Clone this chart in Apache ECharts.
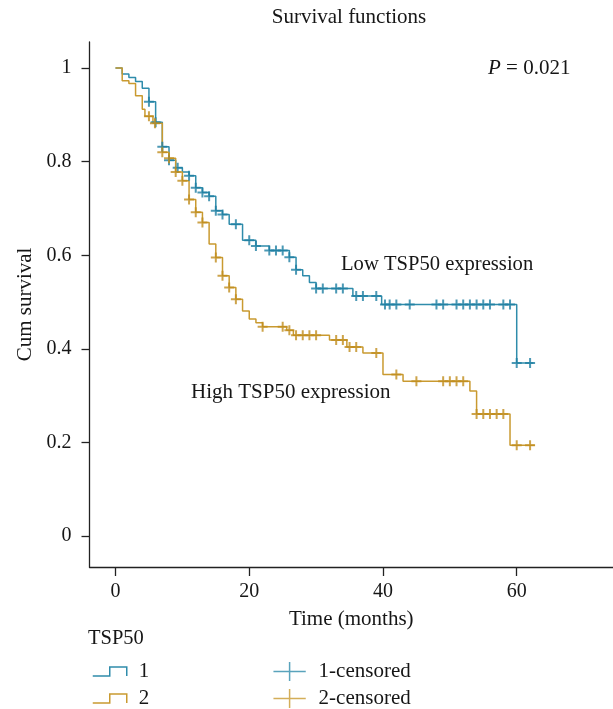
<!DOCTYPE html>
<html><head><meta charset="utf-8">
<script src="https://cdn.jsdelivr.net/npm/echarts@6/dist/echarts.min.js"></script>
<style>html,body{margin:0;padding:0;background:#fff}#c{width:613px;height:709px}</style>
</head><body><div id="c"></div>
<script>
// Group 1 (low TSP50): step drop times and survival after each drop
const group1Times = [0, 1, 2, 3, 4, 5, 6, 7, 8, 9, 10, 11, 12, 13, 14, 15, 16, 17, 19, 21, 23, 26, 27, 28, 29, 30, 35.5, 39.8, 60];
const group1Surv  = [1, 0.987, 0.980, 0.971, 0.957, 0.928, 0.884, 0.832, 0.803, 0.787, 0.778, 0.770, 0.744, 0.734, 0.726, 0.695, 0.687, 0.666, 0.632, 0.620, 0.610, 0.596, 0.569, 0.556, 0.542, 0.529, 0.513, 0.495, 0.370];
const group1End = 62.5;
const group1Censored = [5, 6, 7, 8, 9.3, 11, 12, 13, 14, 15, 16, 18, 20, 21, 23, 24, 25, 26, 27, 30, 31, 33, 34, 36, 37, 39, 40.3, 41, 42, 44, 48, 49, 51, 52, 53, 54, 55, 56, 58, 59, 60, 62];

// Group 2 (high TSP50)
const group2Times = [0, 1, 2, 3, 4, 4.4, 5.6, 7, 8, 9, 10, 11, 12, 13, 14, 15, 16, 17, 18, 19, 20, 21, 22, 25.6, 26.6, 32, 34.6, 37, 40, 43, 53, 54, 59];
const group2Surv  = [1, 0.973, 0.967, 0.941, 0.912, 0.897, 0.882, 0.820, 0.807, 0.778, 0.759, 0.719, 0.692, 0.670, 0.624, 0.595, 0.556, 0.531, 0.506, 0.481, 0.464, 0.456, 0.447, 0.440, 0.429, 0.419, 0.404, 0.391, 0.345, 0.331, 0.310, 0.261, 0.194];
const group2End = 62.7;
const group2Censored = [5, 5.9, 7, 8, 9, 10, 11, 12, 13, 15, 16, 17, 18, 22, 25, 26, 27, 28, 29, 30, 33, 34, 35, 36, 39, 42, 45, 49, 50, 51, 52, 54, 55, 56, 57, 58, 60, 62];

const xTickValues = [0, 20, 40, 60];
const yTickValues = [0, 0.2, 0.4, 0.6, 0.8, 1];

const teal = '#2f8cab';
const gold = '#c99a30';
const FONT = 'Liberation Serif';
const TXT = '#161616';

function stepPoints(times, surv, end) {
  const pts = [[times[0], surv[0]]];
  for (let i = 1; i < times.length; i++) {
    pts.push([times[i], surv[i - 1]]);
    pts.push([times[i], surv[i]]);
  }
  pts.push([end, surv[surv.length - 1]]);
  return pts;
}
function survAt(times, surv, t) {
  let s = surv[0];
  for (let i = 0; i < times.length; i++) if (t >= times[i]) s = surv[i];
  return s;
}
function censorPoints(times, surv, cens) {
  return cens.map(t => [t, survAt(times, surv, t)]);
}

const crossSym = 'path://M0,5L10,5M5,0L5,10';
const crossLegend = 'path://M0,10L34,10M17,0L17,20';
const stepLegend = 'path://M0,9L17,9L17,0L34,0L34,9';

const chart = echarts.init(document.getElementById('c'));
const txt = (size, extra) => Object.assign({fontFamily: FONT, fontSize: size, fontWeight: 'normal', color: TXT}, extra || {});

chart.setOption({
  animation: false,
  backgroundColor: '#fff',
  title: [
    {text: 'Survival functions', left: 349, top: 7, textAlign: 'center', padding: 0, textStyle: txt(21)},
    {text: '{i|P} = 0.021', left: 488, top: 58, padding: 0,
     textStyle: txt(21, {rich: {i: {fontFamily: FONT, fontSize: 21, fontStyle: 'italic', color: TXT}}})},
    {text: 'Low TSP50 expression', left: 341, top: 254, padding: 0, textStyle: txt(20.6)},
    {text: 'High TSP50 expression', left: 191, top: 382, padding: 0, textStyle: txt(21)},
    {text: 'TSP50', left: 88, top: 628, padding: 0, textStyle: txt(20.5)}
  ],
  grid: {left: 89.5, right: 0, top: 42, bottom: 142},
  xAxis: {
    type: 'value', min: -3.89, max: 74.4,
    name: 'Time (months)', nameLocation: 'middle', nameGap: 42, nameTextStyle: txt(21),
    axisLine: {show: true, onZero: false, lineStyle: {color: '#222', width: 1.3}},
    axisTick: {show: true, length: 9, customValues: xTickValues, lineStyle: {color: '#222', width: 1.3}},
    axisLabel: {customValues: xTickValues, margin: 15, ...txt(20)},
    splitLine: {show: false}
  },
  yAxis: {
    type: 'value', min: -0.066, max: 1.0556,
    name: 'Cum survival', nameLocation: 'middle', nameGap: 52, nameTextStyle: txt(21),
    axisLine: {show: true, onZero: false, lineStyle: {color: '#222', width: 1.3}},
    axisTick: {show: true, length: 8, customValues: yTickValues, lineStyle: {color: '#222', width: 1.3}},
    axisLabel: {customValues: yTickValues, margin: 18, ...txt(20),
      formatter: v => String(Math.round(v * 10) / 10)},
    splitLine: {show: false}
  },
  legend: [
    {orient: 'vertical', left: 92, top: 661, height: 48, padding: 0, itemWidth: 34, itemHeight: 9, itemGap: 6,
     selectedMode: false, textStyle: txt(21, {lineHeight: 21, padding: [0, 0, 0, 7]}),
     data: [
       {name: '1', icon: stepLegend, itemStyle: {color: 'rgba(0,0,0,0)', borderColor: teal, borderWidth: 1.5}},
       {name: '2', icon: stepLegend, itemStyle: {color: 'rgba(0,0,0,0)', borderColor: gold, borderWidth: 1.5}}
     ]},
    {orient: 'vertical', left: 272.7, top: 661, height: 48, padding: 0, itemWidth: 34, itemHeight: 19, itemGap: 6,
     selectedMode: false, textStyle: txt(21, {lineHeight: 21, padding: [0, 0, 0, 7]}),
     data: [
       {name: '1-censored', icon: crossLegend, itemStyle: {color: 'rgba(0,0,0,0)', borderColor: teal, borderWidth: 1.5}},
       {name: '2-censored', icon: crossLegend, itemStyle: {color: 'rgba(0,0,0,0)', borderColor: gold, borderWidth: 1.5}}
     ]}
  ],
  series: [
    {name: '1', type: 'line', data: stepPoints(group1Times, group1Surv, group1End),
     symbol: 'none', showSymbol: false, silent: true, z: 2,
     itemStyle: {color: teal}, lineStyle: {color: teal, width: 1.5}},
    {name: '2', type: 'line', data: stepPoints(group2Times, group2Surv, group2End),
     symbol: 'none', showSymbol: false, silent: true, z: 2,
     itemStyle: {color: gold}, lineStyle: {color: gold, width: 1.5}},
    {name: '1-censored', type: 'scatter', data: censorPoints(group1Times, group1Surv, group1Censored),
     symbol: crossSym, symbolSize: 10, silent: true, z: 3,
     itemStyle: {color: 'rgba(0,0,0,0)', borderColor: '#1f80a2', borderWidth: 2}},
    {name: '2-censored', type: 'scatter', data: censorPoints(group2Times, group2Surv, group2Censored),
     symbol: crossSym, symbolSize: 10, silent: true, z: 3,
     itemStyle: {color: 'rgba(0,0,0,0)', borderColor: '#c08d1e', borderWidth: 2}}
  ]
});
</script></body></html>
